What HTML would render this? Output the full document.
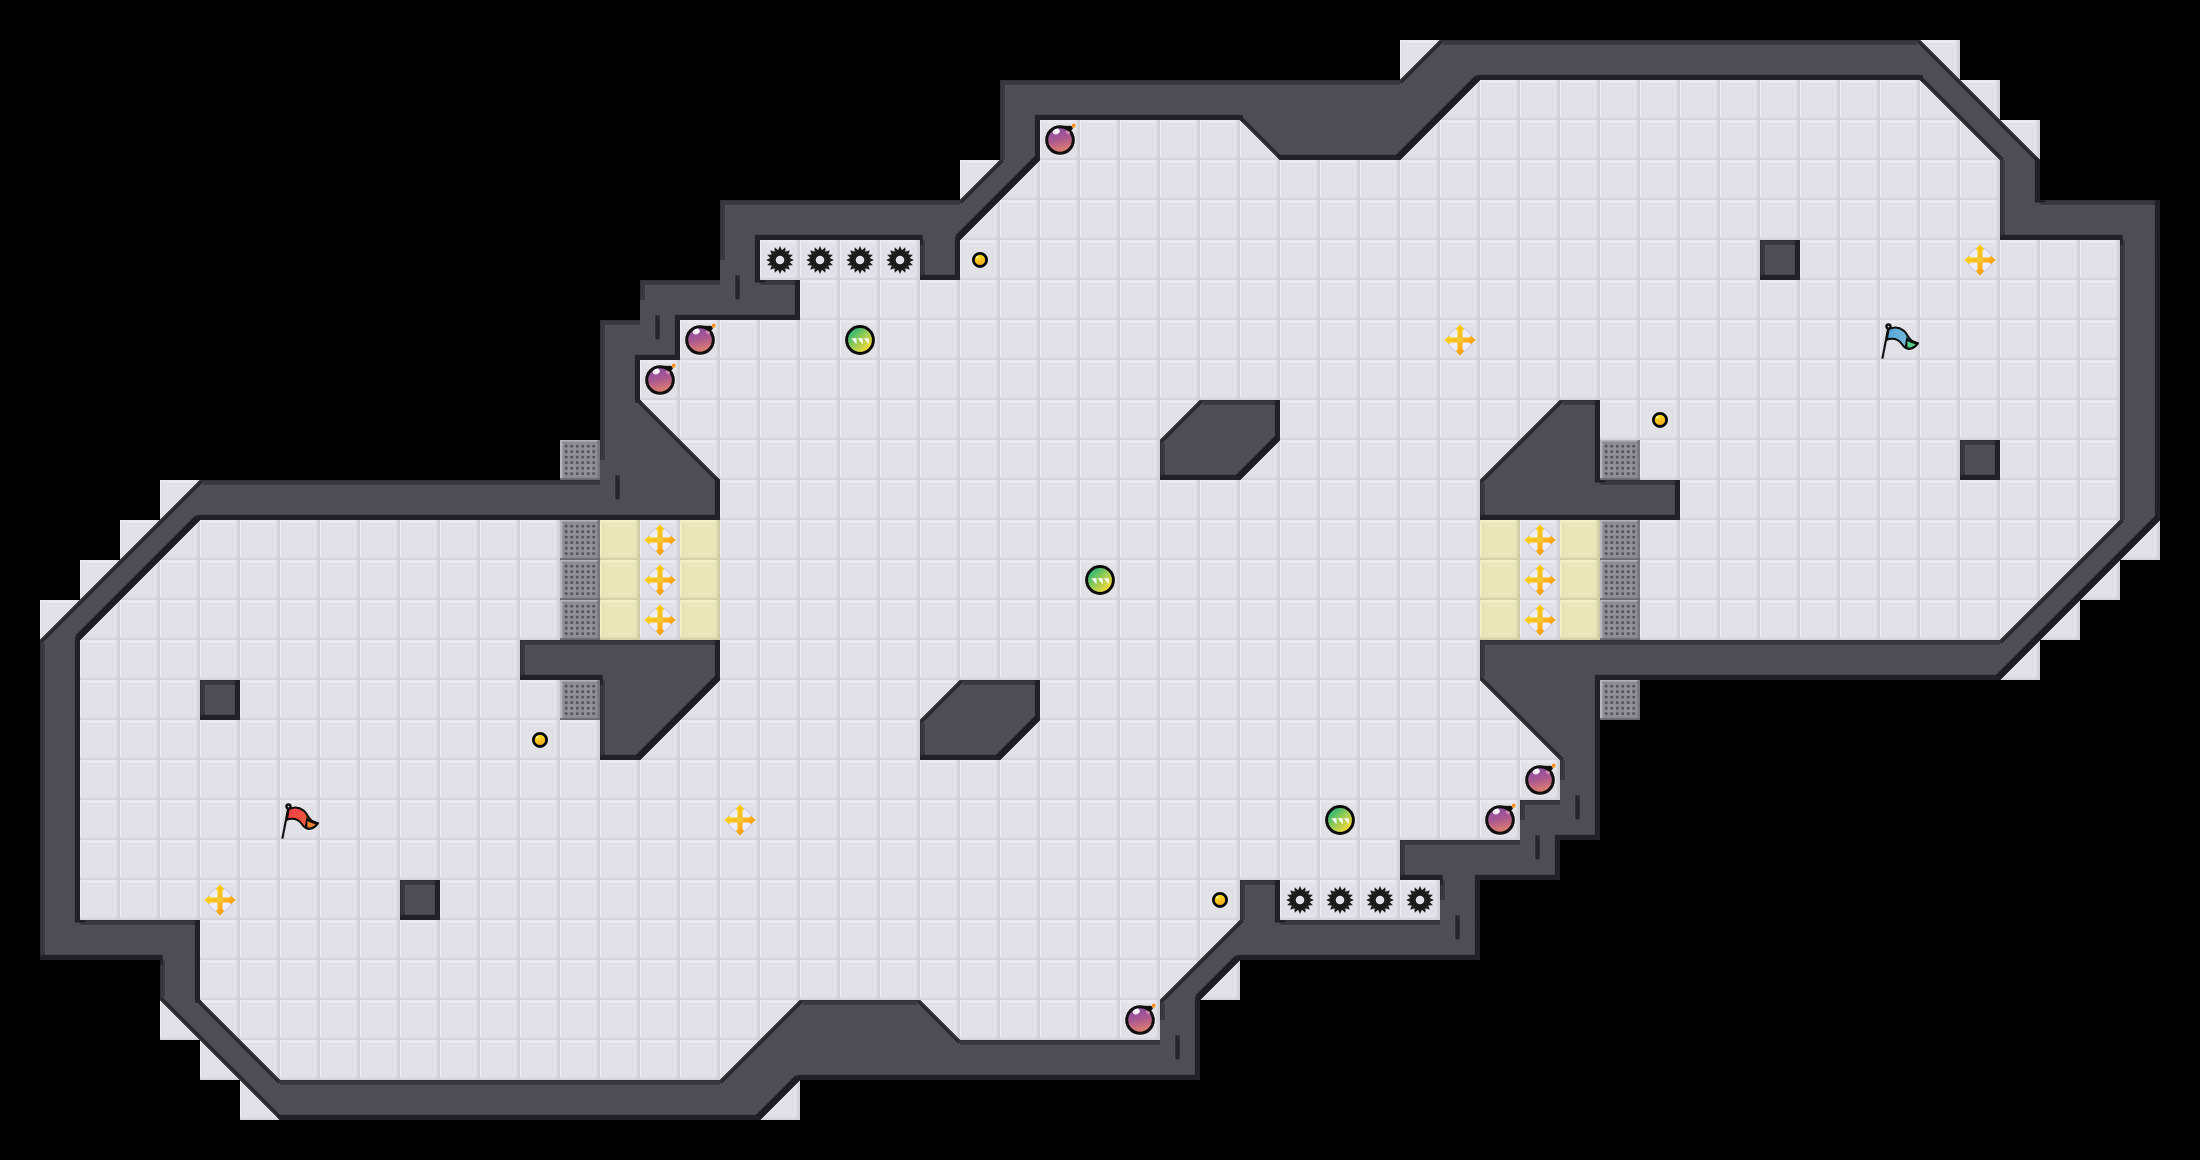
<!DOCTYPE html>
<html><head><meta charset="utf-8"><title>Map</title>
<style>html,body{margin:0;padding:0;background:#000;font-family:"Liberation Sans",sans-serif;}svg{display:block}</style>
</head><body><svg width="2200" height="1160" viewBox="0 0 2200 1160" shape-rendering="auto">
<defs>
<pattern id="fl" width="40" height="40" patternUnits="userSpaceOnUse">
<rect width="40" height="40" fill="#e2e1e7"/>
<rect x="0" y="0" width="40" height="0.8" fill="#e7e6ec"/>
<rect x="1.3" y="0.8" width="35" height="2" fill="#e8e7ed"/>
<rect x="7.5" y="0.7" width="25" height="2.1" fill="#edecf2"/>
<rect x="8" y="4.8" width="24" height="1.8" fill="#e5e4ea"/>
<rect x="2" y="3" width="2" height="34" fill="#dfdee4"/>
<rect x="32" y="8" width="1" height="24" fill="#dedde3"/>
<rect x="34.8" y="8" width="1.4" height="24" fill="#e5e4ea"/>
<rect x="0" y="0" width="1.3" height="40" fill="#eeedf3"/>
<rect x="36.4" y="0" width="1.2" height="40" fill="#dbdae0"/>
<rect x="37.6" y="0" width="2.4" height="40" fill="#d1d0d7"/>
<rect x="0" y="37" width="37" height="1.2" fill="#dddce2"/>
<rect x="0" y="38.2" width="40" height="1.8" fill="#d4d3da"/>
</pattern>
<g id="yl">
<rect width="40" height="40" fill="#e9e6ba"/>
<rect x="0" y="0" width="40" height="2.6" fill="#f1eec4"/>
<rect x="7.5" y="0.6" width="25" height="2" fill="#f5f2c8"/>
<rect x="8" y="4.8" width="24" height="1.8" fill="#eeebbf"/>
<rect x="8" y="33" width="24" height="1.6" fill="#eeebbf"/>
<rect x="2" y="3" width="2" height="34" fill="#e5e2b6"/>
<rect x="0" y="0" width="1.6" height="40" fill="#f4f1c6"/>
<rect x="36.2" y="0" width="1.3" height="40" fill="#e0ddb2"/>
<rect x="37.5" y="0" width="2.5" height="40" fill="#d0cda5"/>
<rect x="0" y="37" width="37" height="1.2" fill="#e0ddb2"/>
<rect x="0" y="38.2" width="40" height="1.8" fill="#d4d1a9"/>
</g>
<g id="gt"><rect width="40" height="40" fill="#85848a"/><rect x="2.5" y="2.5" width="35" height="35" fill="#8f8e94"/><rect x="0" y="0" width="40" height="1.6" fill="#b4b3b9"/><rect x="0" y="0" width="2.4" height="40" fill="#b6b5bb"/><rect x="37.6" y="0" width="2.4" height="40" fill="#77767c"/><rect x="0" y="38.2" width="40" height="1.8" fill="#6c6b71"/><circle cx="11.7" cy="11.7" r="3.3" fill="none" stroke="#9d9ca2" stroke-width="0.9"/><circle cx="11.7" cy="28.2" r="3.3" fill="none" stroke="#9d9ca2" stroke-width="0.9"/><circle cx="28.2" cy="11.7" r="3.3" fill="none" stroke="#9d9ca2" stroke-width="0.9"/><circle cx="28.2" cy="28.2" r="3.3" fill="none" stroke="#9d9ca2" stroke-width="0.9"/><rect x="4.85" y="4.85" width="2.7" height="2.7" rx="0.8" fill="#55545a"/><rect x="4.85" y="10.35" width="2.7" height="2.7" rx="0.8" fill="#55545a"/><rect x="4.85" y="15.85" width="2.7" height="2.7" rx="0.8" fill="#55545a"/><rect x="4.85" y="21.35" width="2.7" height="2.7" rx="0.8" fill="#55545a"/><rect x="4.85" y="26.85" width="2.7" height="2.7" rx="0.8" fill="#55545a"/><rect x="4.85" y="32.35" width="2.7" height="2.7" rx="0.8" fill="#55545a"/><rect x="10.35" y="4.85" width="2.7" height="2.7" rx="0.8" fill="#55545a"/><rect x="10.35" y="10.35" width="2.7" height="2.7" rx="0.8" fill="#55545a"/><rect x="10.35" y="15.85" width="2.7" height="2.7" rx="0.8" fill="#55545a"/><rect x="10.35" y="21.35" width="2.7" height="2.7" rx="0.8" fill="#55545a"/><rect x="10.35" y="26.85" width="2.7" height="2.7" rx="0.8" fill="#55545a"/><rect x="10.35" y="32.35" width="2.7" height="2.7" rx="0.8" fill="#55545a"/><rect x="15.85" y="4.85" width="2.7" height="2.7" rx="0.8" fill="#55545a"/><rect x="15.85" y="10.35" width="2.7" height="2.7" rx="0.8" fill="#55545a"/><rect x="15.85" y="15.85" width="2.7" height="2.7" rx="0.8" fill="#55545a"/><rect x="15.85" y="21.35" width="2.7" height="2.7" rx="0.8" fill="#55545a"/><rect x="15.85" y="26.85" width="2.7" height="2.7" rx="0.8" fill="#55545a"/><rect x="15.85" y="32.35" width="2.7" height="2.7" rx="0.8" fill="#55545a"/><rect x="21.35" y="4.85" width="2.7" height="2.7" rx="0.8" fill="#55545a"/><rect x="21.35" y="10.35" width="2.7" height="2.7" rx="0.8" fill="#55545a"/><rect x="21.35" y="15.85" width="2.7" height="2.7" rx="0.8" fill="#55545a"/><rect x="21.35" y="21.35" width="2.7" height="2.7" rx="0.8" fill="#55545a"/><rect x="21.35" y="26.85" width="2.7" height="2.7" rx="0.8" fill="#55545a"/><rect x="21.35" y="32.35" width="2.7" height="2.7" rx="0.8" fill="#55545a"/><rect x="26.85" y="4.85" width="2.7" height="2.7" rx="0.8" fill="#55545a"/><rect x="26.85" y="10.35" width="2.7" height="2.7" rx="0.8" fill="#55545a"/><rect x="26.85" y="15.85" width="2.7" height="2.7" rx="0.8" fill="#55545a"/><rect x="26.85" y="21.35" width="2.7" height="2.7" rx="0.8" fill="#55545a"/><rect x="26.85" y="26.85" width="2.7" height="2.7" rx="0.8" fill="#55545a"/><rect x="26.85" y="32.35" width="2.7" height="2.7" rx="0.8" fill="#55545a"/><rect x="32.35" y="4.85" width="2.7" height="2.7" rx="0.8" fill="#55545a"/><rect x="32.35" y="10.35" width="2.7" height="2.7" rx="0.8" fill="#55545a"/><rect x="32.35" y="15.85" width="2.7" height="2.7" rx="0.8" fill="#55545a"/><rect x="32.35" y="21.35" width="2.7" height="2.7" rx="0.8" fill="#55545a"/><rect x="32.35" y="26.85" width="2.7" height="2.7" rx="0.8" fill="#55545a"/><rect x="32.35" y="32.35" width="2.7" height="2.7" rx="0.8" fill="#55545a"/></g>
<path id="sp" d="M20.00 6.10 L21.93 10.29 L25.32 7.16 L25.50 11.77 L29.83 10.17 L28.23 14.50 L32.84 14.68 L29.71 18.07 L33.90 20.00 L29.71 21.93 L32.84 25.32 L28.23 25.50 L29.83 29.83 L25.50 28.23 L25.32 32.84 L21.93 29.71 L20.00 33.90 L18.07 29.71 L14.68 32.84 L14.50 28.23 L10.17 29.83 L11.77 25.50 L7.16 25.32 L10.29 21.93 L6.10 20.00 L10.29 18.07 L7.16 14.68 L11.77 14.50 L10.17 10.17 L14.50 11.77 L14.68 7.16 L18.07 10.29Z M24.3 20 A4.3 4.3 0 1 0 15.7 20 A4.3 4.3 0 1 0 24.3 20Z" fill="#1c1c1c" fill-rule="evenodd"/>
<linearGradient id="bg" x1="0" y1="0" x2="0.25" y2="1"><stop offset="0.1" stop-color="#8a4aa6"/><stop offset="0.55" stop-color="#aa598f"/><stop offset="1" stop-color="#e07d6e"/></linearGradient>
<g id="bm">
<path d="M24.5 6.3 H31.2 L32.6 8.2 L30 11.5 Z" fill="#111" stroke="#111" stroke-width="1" stroke-linejoin="round"/>
<rect x="32" y="3.8" width="3.4" height="3.8" rx="0.6" fill="#f6921e"/>
<circle cx="20" cy="20" r="13.3" fill="url(#bg)" stroke="#0f100f" stroke-width="3"/>
<ellipse cx="16.3" cy="11.6" rx="3.6" ry="2.6" transform="rotate(-28 16.3 11.6)" fill="#fff" opacity="0.95"/>
<ellipse cx="28" cy="12.5" rx="2.2" ry="1.6" transform="rotate(35 28 12.5)" fill="#f9a0c0" opacity="0.7"/>
</g>
<linearGradient id="pg" x1="0.1" y1="0.1" x2="0.9" y2="0.9"><stop offset="0.1" stop-color="#2fb777"/><stop offset="0.5" stop-color="#9ccc52"/><stop offset="0.9" stop-color="#f5d93a"/></linearGradient>
<g id="pw">
<circle cx="20" cy="20" r="13.4" fill="url(#pg)" stroke="#0c0c0c" stroke-width="3"/>
<path d="M11.4 18.2H16.5V24.2Z M17.7 18.2H22.7V24.2Z M23.9 18.2H28.6V24.2Z" fill="#fff"/>
</g>
<linearGradient id="og" gradientUnits="userSpaceOnUse" x1="9" y1="9" x2="31" y2="31"><stop offset="0" stop-color="#f6df18"/><stop offset="0.5" stop-color="#fbc21e"/><stop offset="1" stop-color="#ff9216"/></linearGradient>
<g id="bo">
<circle cx="20" cy="20" r="11.8" fill="#f1f1f8" fill-opacity="0.75" stroke="#cdcde6" stroke-opacity="0.8" stroke-width="1.8"/>
<path d="M17.50 20.00L17.50 11.60C17.50 10.40 16.60 9.90 15.70 9.30L20.00 4.20L24.30 9.30C23.40 9.90 22.50 10.40 22.50 11.60L22.50 20.00Z M20.00 17.50L28.40 17.50C29.60 17.50 30.10 16.60 30.70 15.70L35.80 20.00L30.70 24.30C30.10 23.40 29.60 22.50 28.40 22.50L20.00 22.50Z M22.50 20.00L22.50 28.40C22.50 29.60 23.40 30.10 24.30 30.70L20.00 35.80L15.70 30.70C16.60 30.10 17.50 29.60 17.50 28.40L17.50 20.00Z M20.00 22.50L11.60 22.50C10.40 22.50 9.90 23.40 9.30 24.30L4.20 20.00L9.30 15.70C9.90 16.60 10.40 17.50 11.60 17.50L20.00 17.50Z" fill="url(#og)"/>
<circle cx="20" cy="20" r="3.3" fill="url(#og)"/>
<path d="M20 6.5V33.5M6.5 20H33.5" stroke="#ff9c2a" stroke-opacity="0.45" stroke-width="1.2" fill="none"/>
<circle cx="20" cy="20" r="2.4" fill="#e8d810" stroke="#fbb45a" stroke-width="0.9"/>
</g>
<linearGradient id="ug" x1="0.2" y1="0" x2="0.6" y2="1"><stop offset="0" stop-color="#f6ea18"/><stop offset="1" stop-color="#f7a326"/></linearGradient>
<g id="bt"><circle cx="20" cy="19.9" r="6.6" fill="url(#ug)" stroke="#0b0a12" stroke-width="2.8"/><circle cx="17.4" cy="17.4" r="1.1" fill="#fff" opacity="0.75"/></g>
<linearGradient id="rg" x1="0" y1="0" x2="1" y2="0.3"><stop offset="0" stop-color="#f23a48"/><stop offset="1" stop-color="#f3643a"/></linearGradient>
<linearGradient id="lg" x1="0" y1="0" x2="1" y2="0.3"><stop offset="0" stop-color="#559fe0"/><stop offset="1" stop-color="#7cc4d2"/></linearGradient>
<g id="rf">
<path d="M8.6 9.2 C13 7.2 19 7 23.6 10.6 C27.2 13.6 28.5 18.6 32 20.8 C34 22 36.2 22.6 38 23.3 C35.5 26.6 32.5 28.8 29 28.9 C25.6 29 23.6 26.6 22 24.2 C19.5 20.6 16 18.6 11.5 18.8 C9.6 18.9 8 19.4 6.9 19.9 Z" fill="url(#rg)" stroke="#0d0f0d" stroke-width="2" stroke-linejoin="round"/>
<path d="M26.6 16.2 C28 18.8 30 20.4 32 21.2 C34 22 36.2 22.6 38 23.3 C35.5 26.6 32.5 28.8 29 28.9 C27.4 28.9 25.9 28.2 24.8 26.8 Z" fill="#0d0f0d"/>
<path d="M27.2 21.3 L35.7 24.5 C33.6 26.5 30.6 27.8 27.5 27.6 Z" fill="#f0802c"/>
<path d="M8.4 7 L2.4 38.6" stroke="#0d0d0d" stroke-width="2.1" fill="none"/>
<circle cx="8.5" cy="6.5" r="2" fill="#e8e7ec" stroke="#0d0d0d" stroke-width="2.3"/>
</g>
<g id="bf">
<path d="M8.6 9.2 C13 7.2 19 7 23.6 10.6 C27.2 13.6 28.5 18.6 32 20.8 C34 22 36.2 22.6 38 23.3 C35.5 26.6 32.5 28.8 29 28.9 C25.6 29 23.6 26.6 22 24.2 C19.5 20.6 16 18.6 11.5 18.8 C9.6 18.9 8 19.4 6.9 19.9 Z" fill="url(#lg)" stroke="#0d0f0d" stroke-width="2" stroke-linejoin="round"/>
<path d="M26.6 16.2 C28 18.8 30 20.4 32 21.2 C34 22 36.2 22.6 38 23.3 C35.5 26.6 32.5 28.8 29 28.9 C27.4 28.9 25.9 28.2 24.8 26.8 Z" fill="#0d0f0d"/>
<path d="M27.2 21.3 L35.7 24.5 C33.6 26.5 30.6 27.8 27.5 27.6 Z" fill="#54d088"/>
<path d="M8.4 7 L2.4 38.6" stroke="#0d0d0d" stroke-width="2.1" fill="none"/>
<circle cx="8.5" cy="6.5" r="2" fill="#e8e7ec" stroke="#0d0d0d" stroke-width="2.3"/>
</g>
<path id="ws" d="M40 640 L200 480 L600 480 L600 320 L640 320 L640 280 L720 280 L720 200 L960 200 L1000 160 L1000 80 L1400 80 L1440 40 L1920 40 L2040 160 L2040 200 L2160 200 L2160 520 L2000 680 L1600 680 L1600 840 L1560 840 L1560 880 L1480 880 L1480 960 L1240 960 L1200 1000 L1200 1080 L800 1080 L760 1120 L280 1120 L160 1000 L160 960 L40 960Z M80 640 L80 920 L200 920 L200 1000 L280 1080 L720 1080 L800 1000 L920 1000 L960 1040 L1160 1040 L1160 1000 L1240 920 L1240 880 L1280 880 L1280 920 L1440 920 L1440 880 L1400 880 L1400 840 L1520 840 L1520 800 L1560 800 L1560 760 L1480 680 L1480 640 L2000 640 L2120 520 L2120 240 L2000 240 L2000 160 L1920 80 L1480 80 L1400 160 L1280 160 L1240 120 L1040 120 L1040 160 L960 240 L960 280 L920 280 L920 240 L760 240 L760 280 L800 280 L800 320 L680 320 L680 360 L640 360 L640 400 L720 480 L720 520 L200 520Z M200 680 L240 680 L240 720 L200 720Z M400 880 L440 880 L440 920 L400 920Z M520 640 L720 640 L720 680 L640 760 L600 760 L600 680 L520 680Z M920 720 L960 680 L1040 680 L1040 720 L1000 760 L920 760Z M1160 440 L1200 400 L1280 400 L1280 440 L1240 480 L1160 480Z M1480 480 L1560 400 L1600 400 L1600 480 L1680 480 L1680 520 L1480 520Z M1760 240 L1800 240 L1800 280 L1760 280Z M1960 440 L2000 440 L2000 480 L1960 480Z "/>
<clipPath id="wc"><use href="#ws"/></clipPath>
</defs>
<rect width="2200" height="1160" fill="#000"/>
<rect x="1400" y="40" width="560" height="40" fill="url(#fl)"/>
<rect x="1000" y="80" width="1000" height="40" fill="url(#fl)"/>
<rect x="1000" y="120" width="1040" height="40" fill="url(#fl)"/>
<rect x="960" y="160" width="1080" height="40" fill="url(#fl)"/>
<rect x="720" y="200" width="1440" height="40" fill="url(#fl)"/>
<rect x="720" y="240" width="1440" height="40" fill="url(#fl)"/>
<rect x="640" y="280" width="1520" height="40" fill="url(#fl)"/>
<rect x="600" y="320" width="1560" height="40" fill="url(#fl)"/>
<rect x="600" y="360" width="1560" height="40" fill="url(#fl)"/>
<rect x="600" y="400" width="1560" height="40" fill="url(#fl)"/>
<rect x="560" y="440" width="1600" height="40" fill="url(#fl)"/>
<rect x="160" y="480" width="2000" height="40" fill="url(#fl)"/>
<rect x="120" y="520" width="2040" height="40" fill="url(#fl)"/>
<rect x="80" y="560" width="2040" height="40" fill="url(#fl)"/>
<rect x="40" y="600" width="2040" height="40" fill="url(#fl)"/>
<rect x="40" y="640" width="2000" height="40" fill="url(#fl)"/>
<rect x="40" y="680" width="1600" height="40" fill="url(#fl)"/>
<rect x="40" y="720" width="1560" height="40" fill="url(#fl)"/>
<rect x="40" y="760" width="1560" height="40" fill="url(#fl)"/>
<rect x="40" y="800" width="1560" height="40" fill="url(#fl)"/>
<rect x="40" y="840" width="1520" height="40" fill="url(#fl)"/>
<rect x="40" y="880" width="1440" height="40" fill="url(#fl)"/>
<rect x="40" y="920" width="1440" height="40" fill="url(#fl)"/>
<rect x="160" y="960" width="1080" height="40" fill="url(#fl)"/>
<rect x="160" y="1000" width="1040" height="40" fill="url(#fl)"/>
<rect x="200" y="1040" width="1000" height="40" fill="url(#fl)"/>
<rect x="240" y="1080" width="560" height="40" fill="url(#fl)"/>
<use href="#gt" x="560" y="440"/>
<use href="#gt" x="1600" y="440"/>
<use href="#gt" x="560" y="520"/>
<use href="#yl" x="600" y="520"/>
<use href="#yl" x="680" y="520"/>
<use href="#yl" x="1480" y="520"/>
<use href="#yl" x="1560" y="520"/>
<use href="#gt" x="1600" y="520"/>
<use href="#gt" x="560" y="560"/>
<use href="#yl" x="600" y="560"/>
<use href="#yl" x="680" y="560"/>
<use href="#yl" x="1480" y="560"/>
<use href="#yl" x="1560" y="560"/>
<use href="#gt" x="1600" y="560"/>
<use href="#gt" x="560" y="600"/>
<use href="#yl" x="600" y="600"/>
<use href="#yl" x="680" y="600"/>
<use href="#yl" x="1480" y="600"/>
<use href="#yl" x="1560" y="600"/>
<use href="#gt" x="1600" y="600"/>
<use href="#gt" x="560" y="680"/>
<use href="#gt" x="1600" y="680"/>
<use href="#ws" fill="#4e4d53"/>
<g clip-path="url(#wc)" fill="none" stroke-linecap="butt" stroke-linejoin="miter">
<path d="M200.00 480.00L600.00 480.00 M600.00 460.00L600.00 320.00L640.00 320.00 M640.00 300.00L640.00 280.00L720.00 280.00 M720.00 260.00L720.00 200.00L960.00 200.00 M1000.00 160.00L1000.00 80.00L1400.00 80.00 M1440.00 40.00L1920.00 40.00 M2040.00 200.00L2160.00 200.00 M160.00 1000.00L160.00 960.00 M40.00 960.00L40.00 640.00 M80.00 920.00L200.00 920.00 M280.00 1080.00L720.00 1080.00 M800.00 1000.00L920.00 1000.00 M960.00 1040.00L1160.00 1040.00 M1160.00 1020.00L1160.00 1000.00 M1240.00 920.00L1240.00 880.00L1280.00 880.00 M1280.00 920.00L1440.00 920.00 M1440.00 900.00L1440.00 880.00 M1400.00 880.00L1400.00 840.00L1520.00 840.00 M1520.00 820.00L1520.00 800.00L1560.00 800.00 M1560.00 780.00L1560.00 760.00 M1480.00 680.00L1480.00 640.00L2000.00 640.00 M2120.00 520.00L2120.00 240.00 M2000.00 240.00L2000.00 160.00 M920.00 280.00L920.00 240.00 M760.00 280.00L800.00 280.00 M200.00 720.00L200.00 680.00L240.00 680.00 M400.00 920.00L400.00 880.00L440.00 880.00 M600.00 760.00L600.00 680.00 M520.00 680.00L520.00 640.00L720.00 640.00 M960.00 680.00L1040.00 680.00 M920.00 760.00L920.00 720.00 M1200.00 400.00L1280.00 400.00 M1160.00 480.00L1160.00 440.00 M1560.00 400.00L1600.00 400.00 M1600.00 480.00L1680.00 480.00 M1480.00 520.00L1480.00 480.00 M1760.00 280.00L1760.00 240.00L1800.00 240.00 M1960.00 480.00L1960.00 440.00L2000.00 440.00" stroke="#56555b" stroke-opacity="0.7" stroke-width="12"/>
<path d="M2040.00 157.40L2040.00 202.60 M2160.00 197.40L2160.00 520.00L2000.00 680.00L1600.00 680.00L1600.00 840.00L1560.00 840.00L1560.00 880.00L1480.00 880.00L1480.00 960.00L1240.00 960.00L1200.00 1000.00L1200.00 1080.00L800.00 1080.00L760.00 1120.00L277.40 1120.00 M162.60 960.00L37.40 960.00 M200.00 917.40L200.00 1002.60 M1280.00 877.40L1280.00 922.60 M1442.60 880.00L1397.40 880.00 M2122.60 240.00L1997.40 240.00 M1922.60 80.00L1480.00 80.00L1400.00 160.00L1277.40 160.00 M1242.60 120.00L1040.00 120.00L1040.00 160.00L960.00 240.00L960.00 280.00L917.40 280.00 M922.60 240.00L760.00 240.00L760.00 282.60 M800.00 277.40L800.00 320.00L680.00 320.00L680.00 360.00L640.00 360.00L640.00 402.60 M720.00 477.40L720.00 520.00L200.00 520.00L80.00 640.00L80.00 922.60 M240.00 677.40L240.00 720.00L197.40 720.00 M440.00 877.40L440.00 920.00L397.40 920.00 M720.00 637.40L720.00 680.00L640.00 760.00L597.40 760.00 M602.60 680.00L517.40 680.00 M1040.00 677.40L1040.00 720.00L1000.00 760.00L917.40 760.00 M1280.00 397.40L1280.00 440.00L1240.00 480.00L1157.40 480.00 M1600.00 397.40L1600.00 482.60 M1680.00 477.40L1680.00 520.00L1477.40 520.00 M1800.00 237.40L1800.00 280.00L1757.40 280.00 M2000.00 437.40L2000.00 480.00L1957.40 480.00" stroke="#56555b" stroke-opacity="0.7" stroke-width="12.4"/>
<path d="M200.00 480.00L600.00 480.00 M600.00 460.00L600.00 320.00L640.00 320.00 M640.00 300.00L640.00 280.00L720.00 280.00 M720.00 260.00L720.00 200.00L960.00 200.00 M1000.00 160.00L1000.00 80.00L1400.00 80.00 M1440.00 40.00L1920.00 40.00 M2040.00 200.00L2160.00 200.00 M160.00 1000.00L160.00 960.00 M40.00 960.00L40.00 640.00 M80.00 920.00L200.00 920.00 M280.00 1080.00L720.00 1080.00 M800.00 1000.00L920.00 1000.00 M960.00 1040.00L1160.00 1040.00 M1160.00 1020.00L1160.00 1000.00 M1240.00 920.00L1240.00 880.00L1280.00 880.00 M1280.00 920.00L1440.00 920.00 M1440.00 900.00L1440.00 880.00 M1400.00 880.00L1400.00 840.00L1520.00 840.00 M1520.00 820.00L1520.00 800.00L1560.00 800.00 M1560.00 780.00L1560.00 760.00 M1480.00 680.00L1480.00 640.00L2000.00 640.00 M2120.00 520.00L2120.00 240.00 M2000.00 240.00L2000.00 160.00 M920.00 280.00L920.00 240.00 M760.00 280.00L800.00 280.00 M200.00 720.00L200.00 680.00L240.00 680.00 M400.00 920.00L400.00 880.00L440.00 880.00 M600.00 760.00L600.00 680.00 M520.00 680.00L520.00 640.00L720.00 640.00 M960.00 680.00L1040.00 680.00 M920.00 760.00L920.00 720.00 M1200.00 400.00L1280.00 400.00 M1160.00 480.00L1160.00 440.00 M1560.00 400.00L1600.00 400.00 M1600.00 480.00L1680.00 480.00 M1480.00 520.00L1480.00 480.00 M1760.00 280.00L1760.00 240.00L1800.00 240.00 M1960.00 480.00L1960.00 440.00L2000.00 440.00" stroke="#39383e" stroke-width="10"/>
<path d="M200.00 480.00L600.00 480.00 M600.00 460.00L600.00 320.00L640.00 320.00 M640.00 300.00L640.00 280.00L720.00 280.00 M720.00 260.00L720.00 200.00L960.00 200.00 M1000.00 160.00L1000.00 80.00L1400.00 80.00 M1440.00 40.00L1920.00 40.00 M2040.00 200.00L2160.00 200.00 M160.00 1000.00L160.00 960.00 M40.00 960.00L40.00 640.00 M80.00 920.00L200.00 920.00 M280.00 1080.00L720.00 1080.00 M800.00 1000.00L920.00 1000.00 M960.00 1040.00L1160.00 1040.00 M1160.00 1020.00L1160.00 1000.00 M1240.00 920.00L1240.00 880.00L1280.00 880.00 M1280.00 920.00L1440.00 920.00 M1440.00 900.00L1440.00 880.00 M1400.00 880.00L1400.00 840.00L1520.00 840.00 M1520.00 820.00L1520.00 800.00L1560.00 800.00 M1560.00 780.00L1560.00 760.00 M1480.00 680.00L1480.00 640.00L2000.00 640.00 M2120.00 520.00L2120.00 240.00 M2000.00 240.00L2000.00 160.00 M920.00 280.00L920.00 240.00 M760.00 280.00L800.00 280.00 M200.00 720.00L200.00 680.00L240.00 680.00 M400.00 920.00L400.00 880.00L440.00 880.00 M600.00 760.00L600.00 680.00 M520.00 680.00L520.00 640.00L720.00 640.00 M960.00 680.00L1040.00 680.00 M920.00 760.00L920.00 720.00 M1200.00 400.00L1280.00 400.00 M1160.00 480.00L1160.00 440.00 M1560.00 400.00L1600.00 400.00 M1600.00 480.00L1680.00 480.00 M1480.00 520.00L1480.00 480.00 M1760.00 280.00L1760.00 240.00L1800.00 240.00 M1960.00 480.00L1960.00 440.00L2000.00 440.00" stroke="#2f2e34" stroke-width="2"/>
<path d="M38.94 641.06L201.06 478.94 M958.94 201.06L1001.06 158.94 M1398.94 81.06L1441.06 38.94 M1918.94 38.94L2041.06 161.06 M281.06 1121.06L158.94 998.94 M198.94 998.94L281.06 1081.06 M718.94 1081.06L801.06 998.94 M918.94 998.94L961.06 1041.06 M1158.94 1001.06L1241.06 918.94 M1561.06 761.06L1478.94 678.94 M1998.94 641.06L2121.06 518.94 M2001.06 161.06L1918.94 78.94 M1281.06 161.06L1238.94 118.94 M638.94 398.94L721.06 481.06 M918.94 721.06L961.06 678.94 M1158.94 441.06L1201.06 398.94 M1478.94 481.06L1561.06 398.94" stroke="#56555b" stroke-opacity="0.7" stroke-width="10"/>
<path d="M38.94 641.06L201.06 478.94 M958.94 201.06L1001.06 158.94 M1398.94 81.06L1441.06 38.94 M1918.94 38.94L2041.06 161.06 M281.06 1121.06L158.94 998.94 M198.94 998.94L281.06 1081.06 M718.94 1081.06L801.06 998.94 M918.94 998.94L961.06 1041.06 M1158.94 1001.06L1241.06 918.94 M1561.06 761.06L1478.94 678.94 M1998.94 641.06L2121.06 518.94 M2001.06 161.06L1918.94 78.94 M1281.06 161.06L1238.94 118.94 M638.94 398.94L721.06 481.06 M918.94 721.06L961.06 678.94 M1158.94 441.06L1201.06 398.94 M1478.94 481.06L1561.06 398.94" stroke="#2c2b31" stroke-width="8"/>
<path d="M2040.00 157.40L2040.00 202.60 M2160.00 197.40L2160.00 520.00L2000.00 680.00L1600.00 680.00L1600.00 840.00L1560.00 840.00L1560.00 880.00L1480.00 880.00L1480.00 960.00L1240.00 960.00L1200.00 1000.00L1200.00 1080.00L800.00 1080.00L760.00 1120.00L277.40 1120.00 M162.60 960.00L37.40 960.00 M200.00 917.40L200.00 1002.60 M1280.00 877.40L1280.00 922.60 M1442.60 880.00L1397.40 880.00 M2122.60 240.00L1997.40 240.00 M1922.60 80.00L1480.00 80.00L1400.00 160.00L1277.40 160.00 M1242.60 120.00L1040.00 120.00L1040.00 160.00L960.00 240.00L960.00 280.00L917.40 280.00 M922.60 240.00L760.00 240.00L760.00 282.60 M800.00 277.40L800.00 320.00L680.00 320.00L680.00 360.00L640.00 360.00L640.00 402.60 M720.00 477.40L720.00 520.00L200.00 520.00L80.00 640.00L80.00 922.60 M240.00 677.40L240.00 720.00L197.40 720.00 M440.00 877.40L440.00 920.00L397.40 920.00 M720.00 637.40L720.00 680.00L640.00 760.00L597.40 760.00 M602.60 680.00L517.40 680.00 M1040.00 677.40L1040.00 720.00L1000.00 760.00L917.40 760.00 M1280.00 397.40L1280.00 440.00L1240.00 480.00L1157.40 480.00 M1600.00 397.40L1600.00 482.60 M1680.00 477.40L1680.00 520.00L1477.40 520.00 M1800.00 237.40L1800.00 280.00L1757.40 280.00 M2000.00 437.40L2000.00 480.00L1957.40 480.00" stroke="#222127" stroke-width="10.4"/>
<path d="M2160 520L2120 560 M2120 560L2080 600 M2080 600L2040 640 M2040 640L2000 680 M1240 960L1200 1000 M800 1080L760 1120 M1480 80L1440 120 M1440 120L1400 160 M1040 160L1000 200 M1000 200L960 240 M200 520L160 560 M160 560L120 600 M120 600L80 640 M720 680L680 720 M680 720L640 760 M1040 720L1000 760 M1280 440L1240 480" stroke="#1d1c22" stroke-width="13" stroke-linecap="butt"/>
<rect x="614.3" y="474.2" width="6.4" height="26" rx="1" fill="#57565c" opacity="0.55"/>
<rect x="615.2" y="475" width="4.6" height="24.5" rx="0.8" fill="#27262c"/>
<rect x="654.3" y="314.2" width="6.4" height="26" rx="1" fill="#57565c" opacity="0.55"/>
<rect x="655.2" y="315" width="4.6" height="24.5" rx="0.8" fill="#27262c"/>
<rect x="734.3" y="274.2" width="6.4" height="26" rx="1" fill="#57565c" opacity="0.55"/>
<rect x="735.2" y="275" width="4.6" height="24.5" rx="0.8" fill="#27262c"/>
<rect x="1174.3" y="1034.2" width="6.4" height="26" rx="1" fill="#57565c" opacity="0.55"/>
<rect x="1175.2" y="1035" width="4.6" height="24.5" rx="0.8" fill="#27262c"/>
<rect x="1454.3" y="914.2" width="6.4" height="26" rx="1" fill="#57565c" opacity="0.55"/>
<rect x="1455.2" y="915" width="4.6" height="24.5" rx="0.8" fill="#27262c"/>
<rect x="1534.3" y="834.2" width="6.4" height="26" rx="1" fill="#57565c" opacity="0.55"/>
<rect x="1535.2" y="835" width="4.6" height="24.5" rx="0.8" fill="#27262c"/>
<rect x="1574.3" y="794.2" width="6.4" height="26" rx="1" fill="#57565c" opacity="0.55"/>
<rect x="1575.2" y="795" width="4.6" height="24.5" rx="0.8" fill="#27262c"/>
</g>
<use href="#bm" x="1040" y="120"/>
<use href="#sp" x="760" y="240"/>
<use href="#sp" x="800" y="240"/>
<use href="#sp" x="840" y="240"/>
<use href="#sp" x="880" y="240"/>
<use href="#bt" x="960" y="240"/>
<use href="#bo" x="1960" y="240"/>
<use href="#bm" x="680" y="320"/>
<use href="#pw" x="840" y="320"/>
<use href="#bo" x="1440" y="320"/>
<use href="#bf" x="1880" y="320"/>
<use href="#bm" x="640" y="360"/>
<use href="#bt" x="1640" y="400"/>
<use href="#bo" x="640" y="520"/>
<use href="#bo" x="1520" y="520"/>
<use href="#bo" x="640" y="560"/>
<use href="#pw" x="1080" y="560"/>
<use href="#bo" x="1520" y="560"/>
<use href="#bo" x="640" y="600"/>
<use href="#bo" x="1520" y="600"/>
<use href="#bt" x="520" y="720"/>
<use href="#bm" x="1520" y="760"/>
<use href="#rf" x="280" y="800"/>
<use href="#bo" x="720" y="800"/>
<use href="#pw" x="1320" y="800"/>
<use href="#bm" x="1480" y="800"/>
<use href="#bo" x="200" y="880"/>
<use href="#bt" x="1200" y="880"/>
<use href="#sp" x="1280" y="880"/>
<use href="#sp" x="1320" y="880"/>
<use href="#sp" x="1360" y="880"/>
<use href="#sp" x="1400" y="880"/>
<use href="#bm" x="1120" y="1000"/>
</svg></body></html>
